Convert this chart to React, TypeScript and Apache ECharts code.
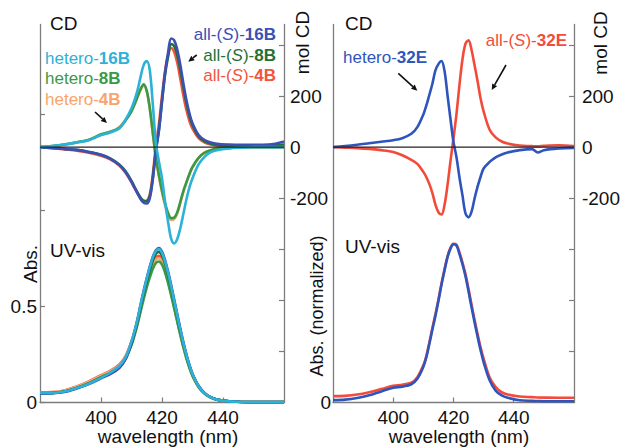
import React, { useEffect, useRef } from "react";
import * as echarts from "echarts";

// wavelength grid (nm)
const WL = [380, 384, 388, 392, 396, 400, 403, 406, 408, 410, 411, 412, 413, 414, 415, 416, 417, 418, 419, 420, 421, 422, 423, 424, 425, 426, 427, 428, 429, 430, 432, 434, 436, 438, 442, 446, 448, 450, 455, 460];

// Left panel CD (mol CD)
const CD_HETERO_16B = [0, 4, 10, 18, 27, 47, 57, 73, 106, 152, 184, 224, 276, 322, 337, 300, 165, 15, -57, -122, -214, -293, -358, -377, -360, -318, -262, -205, -158, -122, -68, -37, -20, -12, -5, -2, -1, 0, 0, 0];
const CD_HETERO_8B = [0, 4, 10, 19, 29, 50, 60, 76, 103, 140, 168, 198, 228, 246, 220, 152, 55, -40, -110, -170, -220, -258, -278, -276, -255, -215, -172, -138, -105, -78, -42, -22, -12, -7, -3, -1, 0, 0, 0, 0];
const CD_HETERO_4B = [0, 3, 9, 18, 28, 47, 58, 78, 106, 142, 168, 196, 224, 240, 218, 150, 50, -45, -115, -178, -228, -266, -285, -282, -260, -220, -176, -140, -106, -78, -42, -22, -12, -7, -3, -1, 0, 0, 0, 0];
const CD_ALLS_16B = [0, -3, -7, -11, -19, -30, -45, -70, -97, -136, -160, -182, -204, -218, -221, -200, -125, -15, 65, 180, 290, 370, 425, 418, 382, 322, 250, 184, 132, 93, 47, 27, 18, 13, 10, 9, 9, 9, 10, 22];
const CD_ALLS_8B = [0, -3, -7, -11, -19, -30, -44, -68, -94, -132, -156, -178, -198, -210, -212, -192, -118, -10, 68, 178, 283, 355, 403, 395, 360, 302, 235, 172, 122, 86, 42, 22, 13, 8, 5, 4, 4, 4, 5, 10];
const CD_ALLS_4B = [0, -4, -9, -14, -22, -34, -48, -72, -99, -138, -160, -182, -200, -212, -210, -185, -105, 5, 92, 200, 298, 360, 388, 372, 330, 268, 202, 145, 102, 72, 35, 18, 10, 6, 4, 3, 3, 3, 3, 3];

// Left panel UV-vis (Abs.)
const UV_HETERO_16B = [0.05, 0.05, 0.057, 0.075, 0.098, 0.128, 0.155, 0.19, 0.233, 0.319, 0.372, 0.435, 0.51, 0.58, 0.645, 0.705, 0.757, 0.79, 0.8, 0.78, 0.735, 0.675, 0.605, 0.53, 0.455, 0.38, 0.31, 0.247, 0.193, 0.148, 0.085, 0.048, 0.027, 0.015, 0.006, 0.003, 0.002, 0.002, 0.002, 0.002];
const UV_HETERO_8B = [0.048, 0.049, 0.057, 0.076, 0.1, 0.132, 0.155, 0.186, 0.228, 0.3, 0.35, 0.408, 0.475, 0.54, 0.6, 0.652, 0.697, 0.727, 0.735, 0.718, 0.677, 0.622, 0.558, 0.49, 0.421, 0.352, 0.288, 0.23, 0.18, 0.138, 0.08, 0.046, 0.026, 0.015, 0.006, 0.003, 0.002, 0.002, 0.002, 0.002];
const UV_HETERO_4B = [0.052, 0.053, 0.062, 0.082, 0.108, 0.14, 0.162, 0.195, 0.235, 0.31, 0.362, 0.42, 0.49, 0.555, 0.615, 0.67, 0.715, 0.745, 0.752, 0.735, 0.69, 0.632, 0.565, 0.495, 0.425, 0.355, 0.29, 0.232, 0.182, 0.14, 0.082, 0.047, 0.027, 0.015, 0.006, 0.003, 0.002, 0.002, 0.002, 0.002];
const UV_ALLS_16B = [0.047, 0.048, 0.055, 0.073, 0.096, 0.126, 0.148, 0.18, 0.224, 0.31, 0.37, 0.436, 0.512, 0.583, 0.648, 0.708, 0.76, 0.794, 0.805, 0.786, 0.742, 0.682, 0.612, 0.537, 0.461, 0.386, 0.315, 0.251, 0.196, 0.15, 0.087, 0.049, 0.028, 0.016, 0.006, 0.003, 0.002, 0.002, 0.002, 0.002];
const UV_ALLS_8B = [0.049, 0.05, 0.057, 0.075, 0.099, 0.13, 0.152, 0.183, 0.226, 0.306, 0.362, 0.425, 0.497, 0.566, 0.63, 0.688, 0.74, 0.775, 0.785, 0.766, 0.722, 0.664, 0.596, 0.523, 0.449, 0.376, 0.307, 0.245, 0.192, 0.147, 0.085, 0.048, 0.027, 0.015, 0.006, 0.003, 0.002, 0.002, 0.002, 0.002];
const UV_ALLS_4B = [0.053, 0.054, 0.063, 0.083, 0.11, 0.142, 0.165, 0.198, 0.24, 0.318, 0.372, 0.43, 0.5, 0.567, 0.627, 0.683, 0.728, 0.757, 0.765, 0.747, 0.702, 0.644, 0.576, 0.505, 0.433, 0.362, 0.296, 0.236, 0.185, 0.142, 0.082, 0.047, 0.027, 0.015, 0.006, 0.003, 0.002, 0.002, 0.002, 0.002];

// Right panel CD (mol CD)
const CD_HETERO_32E = [0, 4, 9, 15, 21, 27, 35, 52, 78, 128, 163, 205, 248, 300, 325, 337, 300, 205, 110, 20, -40, -120, -190, -260, -275, -253, -201, -155, -116, -84, -58, -40, -29, -21, -12, -8, -21, -12, -5, -3];
const CD_ALLS_32E = [0, -2, -4, -7, -12, -19, -32, -50, -66, -97, -118, -145, -180, -225, -255, -264, -228, -150, -55, 35, 130, 245, 345, 405, 418, 380, 320, 258, 190, 140, 68, 38, 22, 14, 6, 4, 3, 5, 7, 4];

// Right panel UV-vis (normalized Abs.)
const UV_HETERO_32E = [0.015, 0.018, 0.028, 0.045, 0.07, 0.093, 0.1, 0.115, 0.15, 0.225, 0.285, 0.37, 0.46, 0.546, 0.64, 0.74, 0.83, 0.915, 0.97, 0.998, 0.99, 0.935, 0.87, 0.795, 0.7, 0.6, 0.505, 0.415, 0.33, 0.255, 0.14, 0.075, 0.045, 0.03, 0.014, 0.01, 0.009, 0.008, 0.008, 0.008];
const UV_ALLS_32E = [0.04, 0.042, 0.05, 0.065, 0.085, 0.105, 0.112, 0.125, 0.16, 0.235, 0.295, 0.38, 0.47, 0.556, 0.65, 0.748, 0.838, 0.92, 0.975, 1.0, 0.995, 0.945, 0.882, 0.808, 0.715, 0.617, 0.522, 0.432, 0.348, 0.277, 0.158, 0.098, 0.065, 0.05, 0.038, 0.034, 0.032, 0.031, 0.03, 0.03];

// axis ticks
const X_TICKS = [400, 420, 440];
const ABS_TICKS = [0, 0.5, 1, 1.5];
const ABS_LABELS = [0, 0.5];
const CD_TICKS = [-800, -600, -400, -200, 0, 200, 400];
const CD_LABELS = [-200, 0, 200];
const ZERO_LINE = [[380, 0], [460, 0]];

const C = {
  cyan: "#2cb2d8",
  hgreen: "#3a9a44",
  orange: "#f8a46c",
  blue: "#3b4fb4",
  dgreen: "#1f7136",
  red: "#f2553e",
  blue2: "#2f55bd",
  red2: "#f24b3b",
};

const FONT = "Liberation Sans, Arial, Helvetica, sans-serif";
const AXIS_COLOR = "#7d7d7d";

const pts = (ys: number[]) => WL.map((w, i) => [w, ys[i]]);

export default function App() {
  const ref = useRef<HTMLDivElement>(null);
  useEffect(() => {
    const chart = echarts.init(ref.current!, null, { renderer: "svg" });

    const xAxis = (gridIndex: number) => ({
      type: "value",
      gridIndex,
      min: 380,
      max: 460,
      axisLine: { show: true, lineStyle: { color: AXIS_COLOR, width: 1.3 } },
      axisTick: { show: true, inside: true, length: 5, customValues: X_TICKS, lineStyle: { color: AXIS_COLOR, width: 1.2 } },
      axisLabel: { show: true, customValues: X_TICKS, fontSize: 19, color: "#111", fontFamily: FONT, margin: 5 },
      splitLine: { show: false },
    });

    const cdAxis = (gridIndex: number, margin: number) => ({
      type: "value",
      gridIndex,
      position: "right",
      min: -1000,
      max: 480,
      axisLine: { show: true, onZero: false, lineStyle: { color: AXIS_COLOR, width: 1.3 } },
      axisTick: { show: true, inside: true, length: 5, customValues: CD_TICKS, lineStyle: { color: AXIS_COLOR, width: 1.2 } },
      axisLabel: { show: true, customValues: CD_LABELS, fontSize: 19, color: "#111", fontFamily: FONT, margin },
      splitLine: { show: false },
    });

    const line = (name: string, ys: number[], color: string, xAxisIndex: number, yAxisIndex: number, width = 2.6) => ({
      name,
      type: "line",
      xAxisIndex,
      yAxisIndex,
      data: pts(ys),
      showSymbol: false,
      smooth: 0.35,
      lineStyle: { color, width },
      itemStyle: { color },
      silent: true,
    });

    const text = (x: number, y: number, t: string, extra: any = {}) => ({
      type: "text",
      x,
      y,
      silent: true,
      ...extra,
      style: {
        text: t,
        fontSize: 19,
        fontFamily: FONT,
        fill: "#111",
        align: "left",
        textAlign: "left",
        verticalAlign: "middle",
        textVerticalAlign: "middle",
        ...(extra.style || {}),
      },
    });

    const legend = (x: number, y: number, pre: string, italic: string | null, post: string, bold: string, color: string, alignRight: boolean) => {
      const t = italic
        ? `{a|${pre}}{i|${italic}}{a|${post}}{b|${bold}}`
        : `{a|${pre}}{b|${bold}}`;
      return {
        type: "text",
        x,
        y,
        silent: true,
        style: {
          text: t,
          align: alignRight ? "right" : "left",
          textAlign: alignRight ? "right" : "left",
          verticalAlign: "middle",
          textVerticalAlign: "middle",
          fill: color,
          fontSize: 17,
          fontFamily: FONT,
          rich: {
            a: { fill: color, fontSize: 17, fontFamily: FONT },
            i: { fill: color, fontSize: 17, fontFamily: FONT, fontStyle: "italic" },
            b: { fill: color, fontSize: 17, fontFamily: FONT, fontWeight: "bold" },
          },
        },
      };
    };

    const arrow = (x1: number, y1: number, x2: number, y2: number) => {
      const dx = x2 - x1;
      const dy = y2 - y1;
      const len = Math.sqrt(dx * dx + dy * dy);
      const ux = dx / len;
      const uy = dy / len;
      const hl = 6;
      const hw = 2.8;
      const bx = x2 - ux * hl;
      const by = y2 - uy * hl;
      return [
        { type: "line", silent: true, shape: { x1, y1, x2: bx, y2: by }, style: { stroke: "#111", lineWidth: 1.6 } },
        {
          type: "polygon",
          silent: true,
          shape: { points: [[x2, y2], [bx - uy * hw, by + ux * hw], [bx + uy * hw, by - ux * hw]] },
          style: { fill: "#111" },
        },
      ];
    };

    const option: any = {
      animation: false,
      backgroundColor: "#fff",
      grid: [
        { left: 40, top: 24.5, width: 244, height: 378 },
        { left: 333, top: 24.5, width: 244, height: 378 },
      ],
      xAxis: [xAxis(0), xAxis(1)],
      yAxis: [
        {
          type: "value",
          gridIndex: 0,
          position: "left",
          min: 0,
          max: 1.97,
          axisLine: { show: true, onZero: false, lineStyle: { color: AXIS_COLOR, width: 1.3 } },
          axisTick: { show: true, inside: true, length: 5, customValues: ABS_TICKS, lineStyle: { color: AXIS_COLOR, width: 1.2 } },
          axisLabel: { show: true, customValues: ABS_LABELS, fontSize: 19, color: "#111", fontFamily: FONT, margin: 3 },
          splitLine: { show: false },
        },
        cdAxis(0, 6),
        {
          type: "value",
          gridIndex: 1,
          position: "left",
          min: 0,
          max: 2.383,
          axisLine: { show: true, onZero: false, lineStyle: { color: AXIS_COLOR, width: 1.3 } },
          axisTick: { show: false },
          axisLabel: { show: true, customValues: [0], fontSize: 19, color: "#111", fontFamily: FONT, margin: 2 },
          splitLine: { show: false },
        },
        cdAxis(1, 8),
      ],
      series: [
        // left UV
        line("UV all-(S)-4B", UV_ALLS_4B, C.red, 0, 0),
        line("UV hetero-4B", UV_HETERO_4B, C.orange, 0, 0),
        line("UV hetero-8B", UV_HETERO_8B, C.hgreen, 0, 0),
        line("UV all-(S)-8B", UV_ALLS_8B, C.dgreen, 0, 0),
        line("UV all-(S)-16B", UV_ALLS_16B, C.blue, 0, 0),
        line("UV hetero-16B", UV_HETERO_16B, C.cyan, 0, 0),
        // left CD
        line("hetero-4B", CD_HETERO_4B, C.orange, 0, 1),
        line("all-(S)-4B", CD_ALLS_4B, C.red, 0, 1),
        line("hetero-8B", CD_HETERO_8B, C.hgreen, 0, 1),
        line("all-(S)-8B", CD_ALLS_8B, C.dgreen, 0, 1),
        line("all-(S)-16B", CD_ALLS_16B, C.blue, 0, 1),
        line("hetero-16B", CD_HETERO_16B, C.cyan, 0, 1),
        {
          name: "zero-left",
          type: "line",
          xAxisIndex: 0,
          yAxisIndex: 1,
          data: ZERO_LINE,
          showSymbol: false,
          lineStyle: { color: "#222", width: 1.2 },
          z: 5,
          silent: true,
        },
        // right UV
        line("UV all-(S)-32E", UV_ALLS_32E, C.red2, 1, 2),
        line("UV hetero-32E", UV_HETERO_32E, C.blue2, 1, 2),
        // right CD
        line("all-(S)-32E", CD_ALLS_32E, C.red2, 1, 3),
        line("hetero-32E", CD_HETERO_32E, C.blue2, 1, 3),
        {
          name: "zero-right",
          type: "line",
          xAxisIndex: 1,
          yAxisIndex: 3,
          data: ZERO_LINE,
          showSymbol: false,
          lineStyle: { color: "#222", width: 1.2 },
          z: 5,
          silent: true,
        },
      ],
      graphic: [
        text(50, 23.5, "CD"),
        text(345, 23.5, "CD"),
        text(50, 250, "UV-vis"),
        text(345, 246, "UV-vis"),
        text(30, 264, "Abs.", { rotation: Math.PI / 2, style: { align: "center", textAlign: "center" } }),
        text(317, 306, "Abs. (normalized)", { rotation: Math.PI / 2, style: { align: "center", textAlign: "center", fontSize: 18 } }),
        text(302, 42.5, "mol CD", { rotation: Math.PI / 2, style: { align: "center", textAlign: "center" } }),
        text(600, 43, "mol CD", { rotation: Math.PI / 2, style: { align: "center", textAlign: "center" } }),
        text(168, 436, "wavelength (nm)", { style: { align: "center", textAlign: "center" } }),
        text(459, 436, "wavelength (nm)", { style: { align: "center", textAlign: "center" } }),
        legend(45, 58.5, "hetero-", null, "", "16B", C.cyan, false),
        legend(45, 78.5, "hetero-", null, "", "8B", C.hgreen, false),
        legend(45, 99.5, "hetero-", null, "", "4B", C.orange, false),
        legend(276, 34, "all-(", "S", ")-", "16B", C.blue, true),
        legend(276, 55, "all-(", "S", ")-", "8B", C.dgreen, true),
        legend(276, 75, "all-(", "S", ")-", "4B", C.red, true),
        legend(343, 57.5, "hetero-", null, "", "32E", C.blue2, false),
        legend(567, 40, "all-(", "S", ")-", "32E", C.red2, true),
        ...arrow(95, 112, 107, 123),
        ...arrow(196.7, 55, 188.3, 61.7),
        ...arrow(398.3, 73.3, 417.3, 90.7),
        ...arrow(506, 65, 491.7, 90),
      ],
    };

    chart.setOption(option);
    return () => chart.dispose();
  }, []);

  return (
    <div
      ref={ref}
      style={{ position: "fixed", left: 0, top: 0, width: 623, height: 447, background: "#fff" }}
    />
  );
}
